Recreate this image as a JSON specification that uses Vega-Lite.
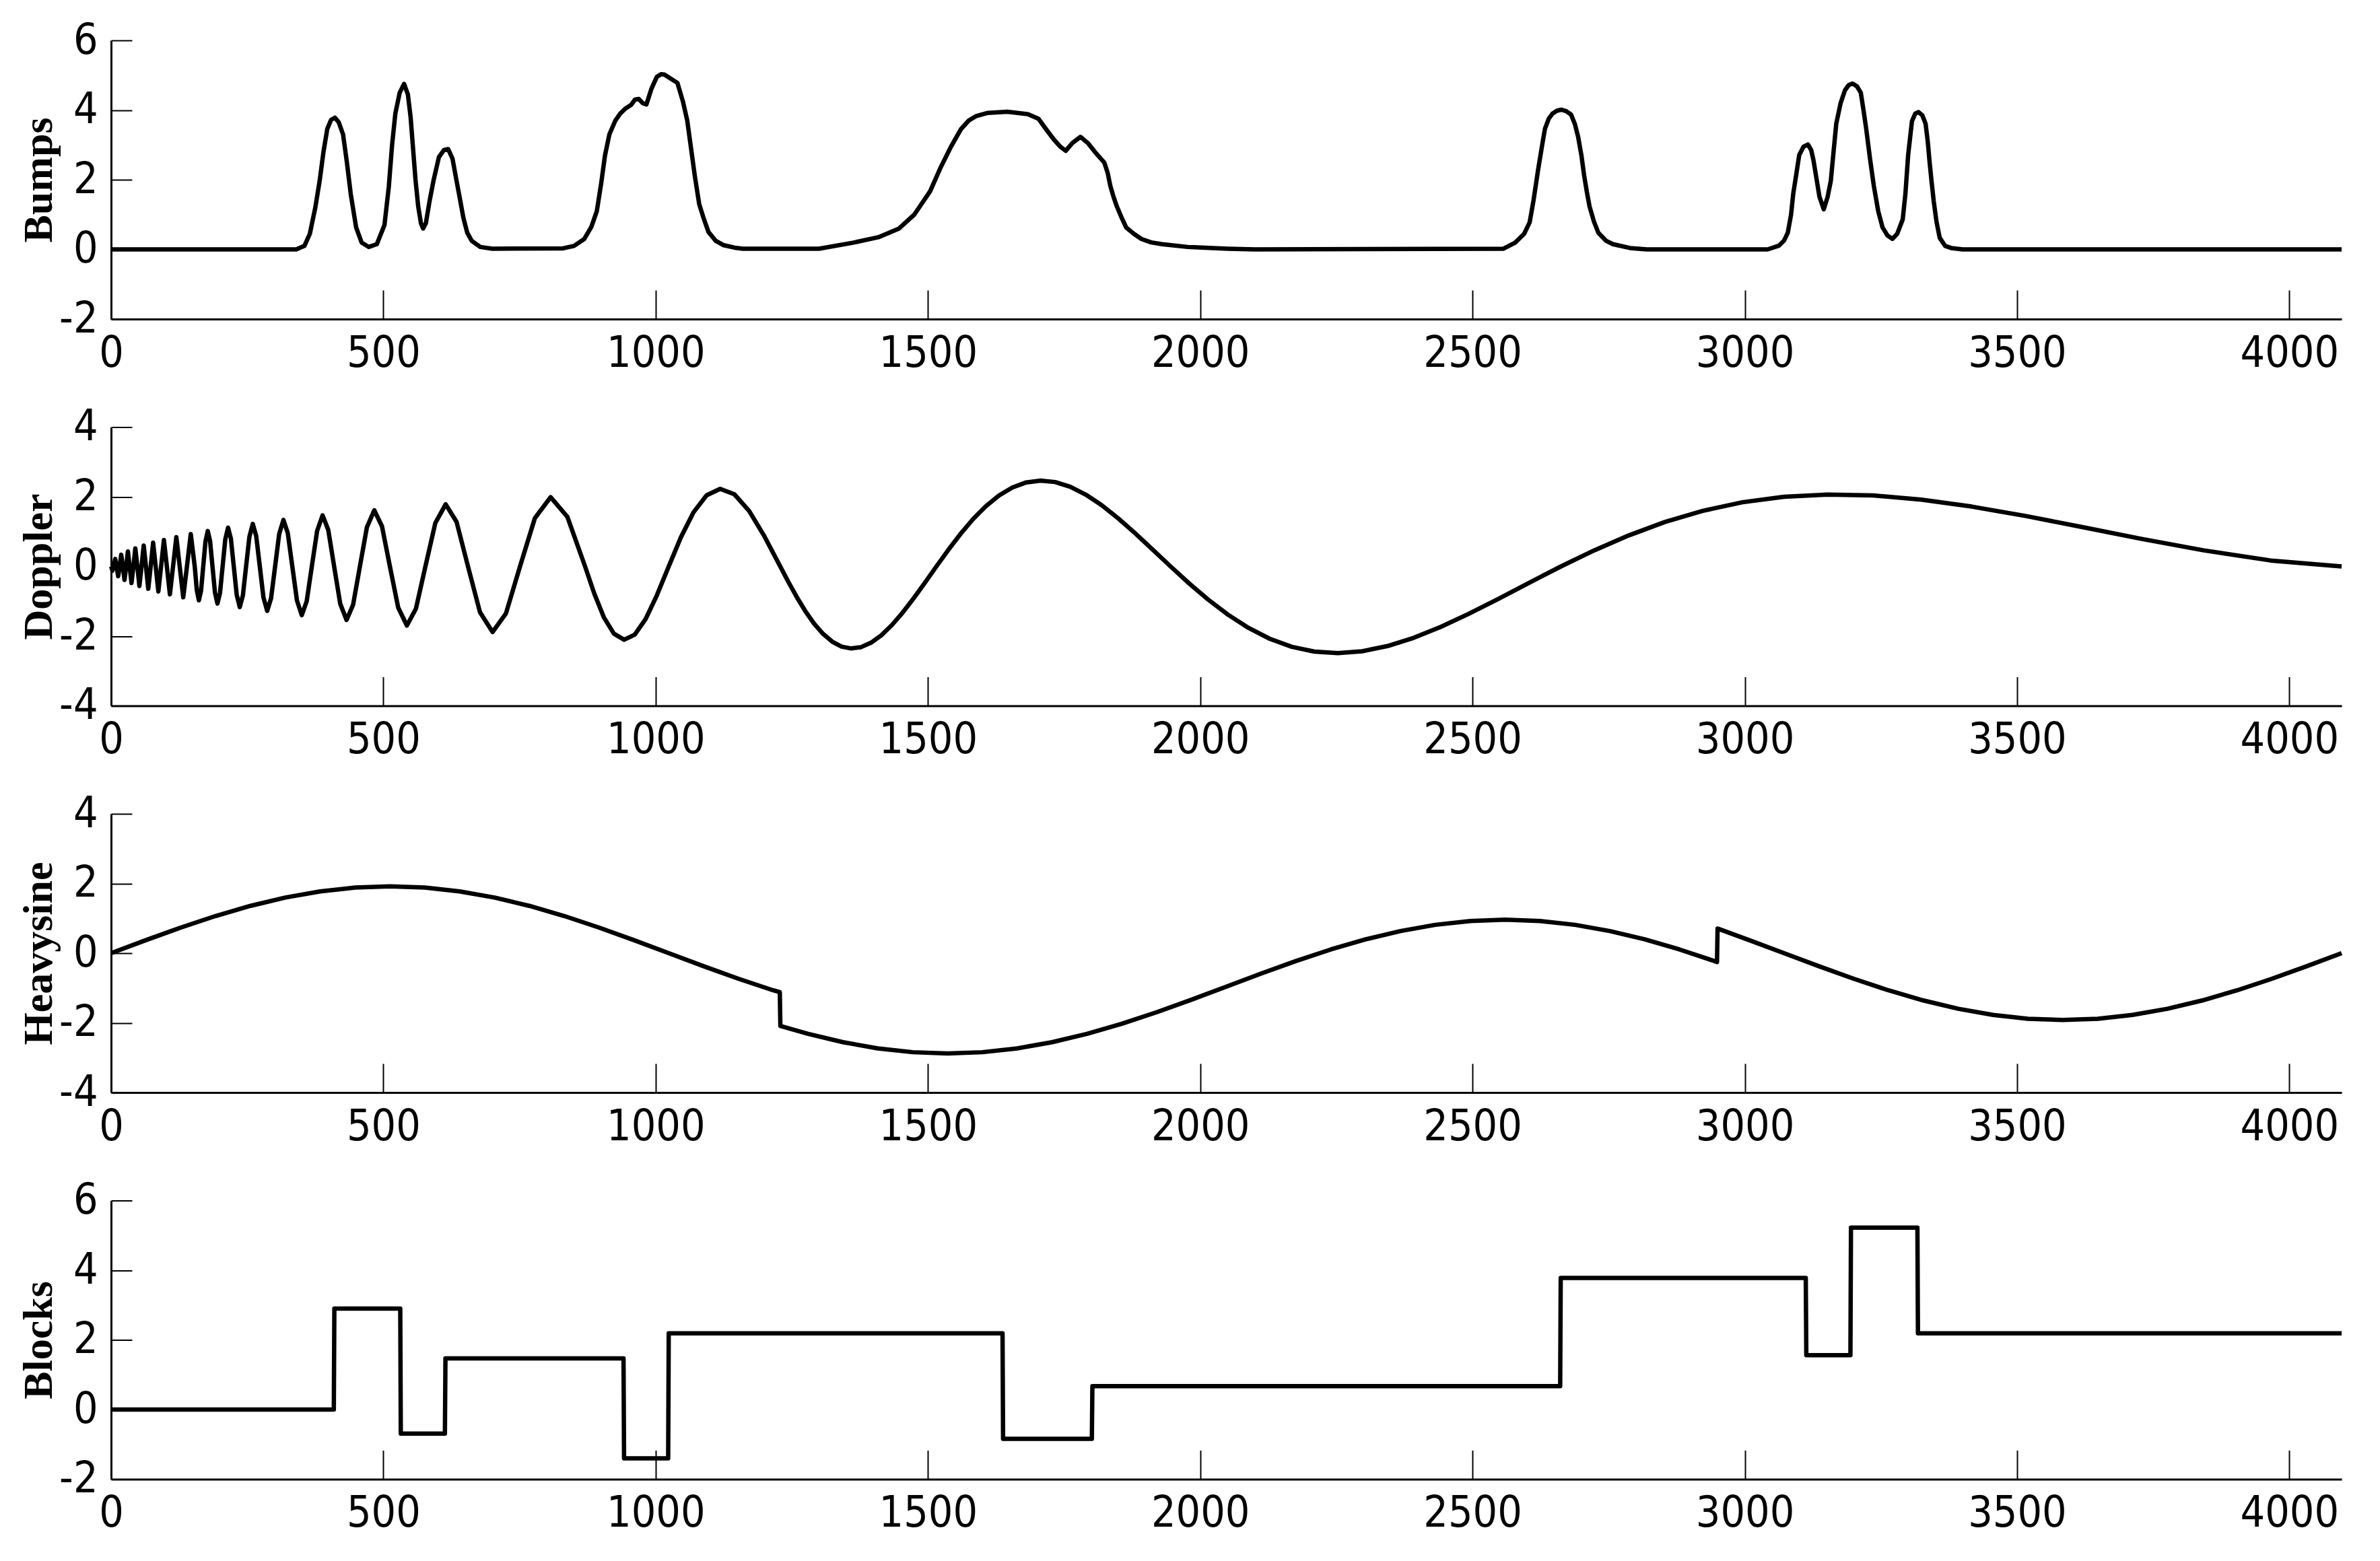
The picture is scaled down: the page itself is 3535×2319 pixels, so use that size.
{
  "$schema": "https://vega.github.io/schema/vega-lite/v6.json",
  "background": "white",
  "padding": {"left": 25, "top": 28, "right": 57, "bottom": 5},
  "spacing": 160.5,
  "bounds": "flush",
  "config": {
    "view": {"stroke": null},
    "axis": {
      "grid": false,
      "domainColor": "black",
      "domainWidth": 3,
      "tickColor": "black",
      "tickWidth": 2,
      "labelColor": "black",
      "labelFont": "Liberation Sans Narrow, Noto Sans ExtraCondensed, Noto Sans Condensed, DejaVu Sans Condensed, Liberation Sans",
      "labelFontSize": 64,
      "labelFlush": false,
      "labelOverlap": false,
      "labelBound": false,
      "labelExpr": "'' + datum.value",
      "titleFont": "Liberation Serif",
      "titleFontWeight": "bold",
      "titleFontSize": 62,
      "titleColor": "black"
    },
    "axisX": {"tickSize": -43, "labelPadding": 62},
    "axisY": {"tickSize": -31, "labelPadding": 51, "titleX": -108, "titleY": 207, "titleAngle": -90, "titleBaseline": "middle", "titleAlign": "center"},
    "line": {"color": "black", "strokeWidth": 6.5, "strokeJoin": "round"}
  },
  "datasets": {
    "bumps": [
      {"x":0,"y":0},{"x":340,"y":0},{"x":355,"y":0.1},{"x":365,"y":0.45},{"x":375,"y":1.2},{"x":383,"y":1.97},{"x":390,"y":2.8},{"x":397,"y":3.46},{"x":404,"y":3.72},{"x":411,"y":3.78},{"x":418,"y":3.65},{"x":426,"y":3.3},{"x":433,"y":2.5},{"x":440,"y":1.6},{"x":450,"y":0.63},{"x":460,"y":0.2},{"x":473,"y":0.07},{"x":488,"y":0.15},{"x":502,"y":0.7},{"x":510,"y":1.8},{"x":516,"y":3.0},{"x":522,"y":3.9},{"x":530,"y":4.5},{"x":538,"y":4.75},{"x":545,"y":4.45},{"x":550,"y":3.8},{"x":554,"y":3.0},{"x":559,"y":2.0},{"x":564,"y":1.23},{"x":569,"y":0.75},{"x":573,"y":0.6},{"x":578,"y":0.75},{"x":585,"y":1.4},{"x":592,"y":1.97},{"x":602,"y":2.65},{"x":611,"y":2.85},{"x":619,"y":2.88},{"x":627,"y":2.6},{"x":634,"y":2.0},{"x":640,"y":1.5},{"x":647,"y":0.9},{"x":654,"y":0.48},{"x":662,"y":0.25},{"x":678,"y":0.07},{"x":700,"y":0.02},{"x":830,"y":0.03},{"x":850,"y":0.1},{"x":869,"y":0.3},{"x":882,"y":0.65},{"x":892,"y":1.1},{"x":900,"y":1.9},{"x":907,"y":2.7},{"x":915,"y":3.3},{"x":926,"y":3.7},{"x":935,"y":3.9},{"x":945,"y":4.05},{"x":955,"y":4.15},{"x":962,"y":4.3},{"x":969,"y":4.32},{"x":976,"y":4.2},{"x":983,"y":4.16},{"x":992,"y":4.6},{"x":1002,"y":4.95},{"x":1010,"y":5.03},{"x":1016,"y":5.02},{"x":1028,"y":4.9},{"x":1040,"y":4.78},{"x":1050,"y":4.25},{"x":1058,"y":3.7},{"x":1065,"y":2.9},{"x":1072,"y":2.1},{"x":1080,"y":1.3},{"x":1088,"y":0.9},{"x":1097,"y":0.5},{"x":1110,"y":0.25},{"x":1125,"y":0.12},{"x":1145,"y":0.05},{"x":1160,"y":0.02},{"x":1300,"y":0.02},{"x":1362,"y":0.19},{"x":1409,"y":0.35},{"x":1447,"y":0.6},{"x":1475,"y":1.0},{"x":1504,"y":1.67},{"x":1523,"y":2.34},{"x":1542,"y":2.94},{"x":1561,"y":3.46},{"x":1575,"y":3.7},{"x":1589,"y":3.83},{"x":1610,"y":3.92},{"x":1646,"y":3.95},{"x":1684,"y":3.88},{"x":1703,"y":3.75},{"x":1717,"y":3.45},{"x":1731,"y":3.16},{"x":1743,"y":2.95},{"x":1753,"y":2.83},{"x":1765,"y":3.05},{"x":1780,"y":3.23},{"x":1794,"y":3.05},{"x":1807,"y":2.79},{"x":1824,"y":2.49},{"x":1830,"y":2.2},{"x":1835,"y":1.82},{"x":1841,"y":1.5},{"x":1847,"y":1.23},{"x":1856,"y":0.9},{"x":1864,"y":0.63},{"x":1878,"y":0.45},{"x":1892,"y":0.3},{"x":1910,"y":0.2},{"x":1930,"y":0.15},{"x":1977,"y":0.07},{"x":2050,"y":0.02},{"x":2100,"y":0},{"x":2557,"y":0.02},{"x":2578,"y":0.19},{"x":2595,"y":0.45},{"x":2605,"y":0.78},{"x":2612,"y":1.4},{"x":2621,"y":2.34},{"x":2628,"y":3.0},{"x":2633,"y":3.46},{"x":2640,"y":3.75},{"x":2647,"y":3.9},{"x":2655,"y":3.98},{"x":2663,"y":4.01},{"x":2672,"y":3.97},{"x":2681,"y":3.87},{"x":2688,"y":3.6},{"x":2694,"y":3.23},{"x":2700,"y":2.7},{"x":2705,"y":2.12},{"x":2710,"y":1.65},{"x":2715,"y":1.23},{"x":2723,"y":0.8},{"x":2731,"y":0.48},{"x":2745,"y":0.25},{"x":2758,"y":0.15},{"x":2789,"y":0.04},{"x":2820,"y":0},{"x":3042,"y":0},{"x":3063,"y":0.11},{"x":3072,"y":0.25},{"x":3079,"y":0.48},{"x":3085,"y":1.0},{"x":3089,"y":1.6},{"x":3095,"y":2.2},{"x":3100,"y":2.71},{"x":3108,"y":2.95},{"x":3116,"y":3.01},{"x":3122,"y":2.85},{"x":3126,"y":2.57},{"x":3132,"y":2.0},{"x":3137,"y":1.52},{"x":3145,"y":1.15},{"x":3152,"y":1.5},{"x":3158,"y":1.97},{"x":3163,"y":2.8},{"x":3168,"y":3.61},{"x":3176,"y":4.2},{"x":3184,"y":4.57},{"x":3191,"y":4.72},{"x":3198,"y":4.76},{"x":3206,"y":4.68},{"x":3213,"y":4.5},{"x":3218,"y":4.0},{"x":3223,"y":3.46},{"x":3230,"y":2.6},{"x":3237,"y":1.82},{"x":3245,"y":1.1},{"x":3253,"y":0.63},{"x":3262,"y":0.4},{"x":3271,"y":0.3},{"x":3280,"y":0.45},{"x":3290,"y":0.86},{"x":3295,"y":1.6},{"x":3300,"y":2.71},{"x":3307,"y":3.68},{"x":3313,"y":3.9},{"x":3319,"y":3.94},{"x":3326,"y":3.85},{"x":3332,"y":3.61},{"x":3336,"y":3.1},{"x":3339,"y":2.57},{"x":3343,"y":1.95},{"x":3347,"y":1.38},{"x":3352,"y":0.8},{"x":3358,"y":0.33},{"x":3368,"y":0.1},{"x":3379,"y":0.04},{"x":3400,"y":0},{"x":4096,"y":0}
    ],
    "doppler": [
      {"x":0,"y":0},{"x":2.5,"y":-0.123},{"x":5.0,"y":0},{"x":7.6,"y":0.215},{"x":10.2,"y":0},{"x":13.0,"y":-0.281},{"x":15.8,"y":0},{"x":18.6,"y":0.336},{"x":21.6,"y":0},{"x":24.6,"y":-0.386},{"x":27.7,"y":0},{"x":30.9,"y":0.432},{"x":34.1,"y":0},{"x":37.5,"y":-0.476},{"x":41.0,"y":0},{"x":44.5,"y":0.518},{"x":48.2,"y":0},{"x":52.0,"y":-0.56},{"x":55.9,"y":0},{"x":59.9,"y":0.6},{"x":64.0,"y":0},{"x":68.3,"y":-0.64},{"x":72.7,"y":0},{"x":77.2,"y":0.68},{"x":81.9,"y":0},{"x":86.8,"y":-0.72},{"x":91.8,"y":0},{"x":97.0,"y":0.76},{"x":102.4,"y":0},{"x":108.0,"y":-0.801},{"x":113.8,"y":0},{"x":119.8,"y":0.842},{"x":126.0,"y":0},{"x":132.5,"y":-0.885},{"x":139.3,"y":0},{"x":146.3,"y":0.928},{"x":153.6,"y":0},{"x":157.4,"y":-0.68},{"x":161.2,"y":-0.972},{"x":165.2,"y":-0.696},{"x":169.2,"y":0},{"x":173.3,"y":0.712},{"x":177.5,"y":1.018},{"x":181.8,"y":0.728},{"x":186.2,"y":0},{"x":190.7,"y":-0.745},{"x":195.3,"y":-1.065},{"x":200.0,"y":-0.762},{"x":204.8,"y":0},{"x":209.7,"y":0.779},{"x":214.8,"y":1.115},{"x":220.0,"y":0.797},{"x":225.3,"y":0},{"x":230.7,"y":-0.815},{"x":236.3,"y":-1.166},{"x":242.0,"y":-0.834},{"x":247.9,"y":0},{"x":254.0,"y":0.853},{"x":260.2,"y":1.219},{"x":266.5,"y":0.872},{"x":273.1,"y":0},{"x":279.8,"y":-0.892},{"x":286.7,"y":-1.276},{"x":293.8,"y":-0.912},{"x":301.2,"y":0},{"x":308.7,"y":0.933},{"x":316.5,"y":1.335},{"x":324.5,"y":0.955},{"x":332.8,"y":0},{"x":341.3,"y":-0.977},{"x":350.1,"y":-1.398},{"x":359.2,"y":-1.0},{"x":368.6,"y":0},{"x":378.4,"y":1.024},{"x":388.4,"y":1.465},{"x":398.8,"y":1.048},{"x":409.6,"y":0},{"x":420.8,"y":-1.073},{"x":432.4,"y":-1.536},{"x":444.4,"y":-1.1},{"x":456.9,"y":0},{"x":469.8,"y":1.127},{"x":483.3,"y":1.613},{"x":497.4,"y":1.155},{"x":512.0,"y":0},{"x":527.3,"y":-1.184},{"x":543.2,"y":-1.696},{"x":559.8,"y":-1.214},{"x":577.2,"y":0},{"x":595.4,"y":1.246},{"x":614.4,"y":1.785},{"x":634.4,"y":1.279},{"x":655.4,"y":0},{"x":677.4,"y":-1.314},{"x":700.6,"y":-1.883},{"x":725.1,"y":-1.349},{"x":750.9,"y":0},{"x":778.2,"y":1.387},{"x":807.2,"y":1.989},{"x":837.8,"y":1.426},{"x":870.4,"y":0},{"x":887.5,"y":-0.788},{"x":905.1,"y":-1.467},{"x":923.3,"y":-1.93},{"x":942.1,"y":-2.104},{"x":961.5,"y":-1.958},{"x":981.6,"y":-1.509},{"x":1002.4,"y":-0.823},{"x":1024,"y":0},{"x":1046.3,"y":0.835},{"x":1069.5,"y":1.553},{"x":1093.6,"y":2.044},{"x":1118.5,"y":2.228},{"x":1144.5,"y":2.073},{"x":1171.5,"y":1.598},{"x":1199.5,"y":0.871},{"x":1228.8,"y":0},{"x":1243.9,"y":-0.449},{"x":1259.3,"y":-0.883},{"x":1275.0,"y":-1.286},{"x":1291.1,"y":-1.643},{"x":1307.6,"y":-1.938},{"x":1324.4,"y":-2.161},{"x":1341.5,"y":-2.302},{"x":1359.1,"y":-2.354},{"x":1377.1,"y":-2.317},{"x":1395.5,"y":-2.189},{"x":1414.3,"y":-1.977},{"x":1433.6,"y":-1.686},{"x":1453.3,"y":-1.329},{"x":1473.6,"y":-0.918},{"x":1494.3,"y":-0.47},{"x":1515.5,"y":0},{"x":1537.3,"y":0.472},{"x":1559.6,"y":0.929},{"x":1582.5,"y":1.353},{"x":1606.1,"y":1.726},{"x":1630.2,"y":2.035},{"x":1655.0,"y":2.267},{"x":1680.5,"y":2.412},{"x":1706.7,"y":2.465},{"x":1733.6,"y":2.423},{"x":1761.3,"y":2.287},{"x":1789.8,"y":2.062},{"x":1819.1,"y":1.757},{"x":1849.3,"y":1.382},{"x":1880.4,"y":0.954},{"x":1912.5,"y":0.487},{"x":1945.6,"y":0},{"x":1979.7,"y":-0.488},{"x":2015.0,"y":-0.957},{"x":2051.4,"y":-1.389},{"x":2089.0,"y":-1.767},{"x":2127.8,"y":-2.077},{"x":2168.1,"y":-2.306},{"x":2209.7,"y":-2.444},{"x":2252.8,"y":-2.487},{"x":2297.5,"y":-2.434},{"x":2343.8,"y":-2.286},{"x":2391.9,"y":-2.049},{"x":2441.9,"y":-1.735},{"x":2493.7,"y":-1.356},{"x":2547.7,"y":-0.928},{"x":2603.9,"y":-0.47},{"x":2662.4,"y":0},{"x":2723.4,"y":0.461},{"x":2787.1,"y":0.892},{"x":2853.6,"y":1.277},{"x":2923.1,"y":1.598},{"x":2995.8,"y":1.843},{"x":3072,"y":2.0},{"x":3151.9,"y":2.065},{"x":3235.8,"y":2.037},{"x":3324.1,"y":1.918},{"x":3416.9,"y":1.718},{"x":3514.8,"y":1.451},{"x":3618.1,"y":1.135},{"x":3727.4,"y":0.795},{"x":3843.0,"y":0.461},{"x":3965.7,"y":0.171},{"x":4096,"y":0}
    ],
    "heavisine": [
      {"x":0,"y":0},{"x":64,"y":0.375},{"x":128,"y":0.735},{"x":192,"y":1.067},{"x":256,"y":1.358},{"x":320,"y":1.596},{"x":384,"y":1.774},{"x":448,"y":1.883},{"x":512,"y":1.92},{"x":576,"y":1.883},{"x":640,"y":1.774},{"x":704,"y":1.596},{"x":768,"y":1.358},{"x":832,"y":1.067},{"x":896,"y":0.735},{"x":960,"y":0.375},{"x":1024,"y":0},{"x":1088,"y":-0.375},{"x":1152,"y":-0.735},{"x":1216,"y":-1.067},{"x":1228,"y":-1.12},{"x":1229,"y":-2.09},{"x":1280,"y":-2.318},{"x":1344,"y":-2.556},{"x":1408,"y":-2.734},{"x":1472,"y":-2.843},{"x":1536,"y":-2.88},{"x":1600,"y":-2.843},{"x":1664,"y":-2.734},{"x":1728,"y":-2.556},{"x":1792,"y":-2.318},{"x":1856,"y":-2.027},{"x":1920,"y":-1.695},{"x":1984,"y":-1.335},{"x":2048,"y":-0.96},{"x":2112,"y":-0.585},{"x":2176,"y":-0.225},{"x":2240,"y":0.107},{"x":2304,"y":0.398},{"x":2368,"y":0.636},{"x":2432,"y":0.814},{"x":2496,"y":0.923},{"x":2560,"y":0.96},{"x":2624,"y":0.923},{"x":2688,"y":0.814},{"x":2752,"y":0.636},{"x":2816,"y":0.398},{"x":2880,"y":0.107},{"x":2944,"y":-0.225},{"x":2949,"y":-0.253},{"x":2950,"y":0.707},{"x":3008,"y":0.375},{"x":3072,"y":0},{"x":3136,"y":-0.375},{"x":3200,"y":-0.735},{"x":3264,"y":-1.067},{"x":3328,"y":-1.358},{"x":3392,"y":-1.596},{"x":3456,"y":-1.774},{"x":3520,"y":-1.883},{"x":3584,"y":-1.92},{"x":3648,"y":-1.883},{"x":3712,"y":-1.774},{"x":3776,"y":-1.596},{"x":3840,"y":-1.358},{"x":3904,"y":-1.067},{"x":3968,"y":-0.735},{"x":4032,"y":-0.375},{"x":4096,"y":0}
    ],
    "blocks": [
      {"x":0,"y":0},{"x":409,"y":0},{"x":410,"y":2.9},{"x":531,"y":2.9},{"x":532,"y":-0.69},{"x":613,"y":-0.69},{"x":614,"y":1.47},{"x":941,"y":1.47},{"x":942,"y":-1.4},{"x":1023,"y":-1.4},{"x":1024,"y":2.19},{"x":1637,"y":2.19},{"x":1638,"y":-0.84},{"x":1801,"y":-0.84},{"x":1802,"y":0.67},{"x":2661,"y":0.67},{"x":2662,"y":3.78},{"x":3112,"y":3.78},{"x":3113,"y":1.56},{"x":3194,"y":1.56},{"x":3195,"y":5.22},{"x":3317,"y":5.22},{"x":3318,"y":2.19},{"x":4096,"y":2.19}
    ]
  },
  "vconcat": [
    {
      "width": 3313, "height": 414,
      "data": {"name": "bumps"},
      "mark": {"type": "line"},
      "encoding": {
        "x": {"field": "x", "type": "quantitative", "scale": {"domain": [0, 4096], "nice": false, "zero": false}, "axis": {"values": [0,500,1000,1500,2000,2500,3000,3500,4000], "title": null}},
        "y": {"field": "y", "type": "quantitative", "scale": {"domain": [-2, 6], "nice": false, "zero": false}, "axis": {"values": [-2,0,2,4,6], "title": "Bumps"}}
      }
    },
    {
      "width": 3313, "height": 414,
      "data": {"name": "doppler"},
      "mark": {"type": "line"},
      "encoding": {
        "x": {"field": "x", "type": "quantitative", "scale": {"domain": [0, 4096], "nice": false, "zero": false}, "axis": {"values": [0,500,1000,1500,2000,2500,3000,3500,4000], "title": null}},
        "y": {"field": "y", "type": "quantitative", "scale": {"domain": [-4, 4], "nice": false, "zero": false}, "axis": {"values": [-4,-2,0,2,4], "title": "Doppler"}}
      }
    },
    {
      "width": 3313, "height": 414,
      "data": {"name": "heavisine"},
      "mark": {"type": "line"},
      "encoding": {
        "x": {"field": "x", "type": "quantitative", "scale": {"domain": [0, 4096], "nice": false, "zero": false}, "axis": {"values": [0,500,1000,1500,2000,2500,3000,3500,4000], "title": null}},
        "y": {"field": "y", "type": "quantitative", "scale": {"domain": [-4, 4], "nice": false, "zero": false}, "axis": {"values": [-4,-2,0,2,4], "title": "Heavysine"}}
      }
    },
    {
      "width": 3313, "height": 414,
      "data": {"name": "blocks"},
      "mark": {"type": "line"},
      "encoding": {
        "x": {"field": "x", "type": "quantitative", "scale": {"domain": [0, 4096], "nice": false, "zero": false}, "axis": {"values": [0,500,1000,1500,2000,2500,3000,3500,4000], "title": null}},
        "y": {"field": "y", "type": "quantitative", "scale": {"domain": [-2, 6], "nice": false, "zero": false}, "axis": {"values": [-2,0,2,4,6], "title": "Blocks"}}
      }
    }
  ]
}
